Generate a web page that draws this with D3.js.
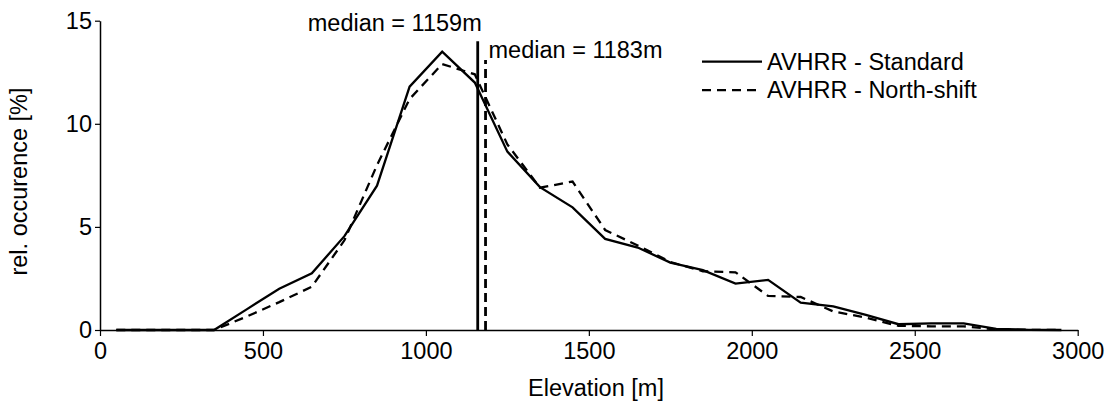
<!DOCTYPE html>
<html>
<head>
<meta charset="utf-8">
<script src="https://cdn.jsdelivr.net/npm/d3@7"></script>
<style>
  html, body { margin: 0; padding: 0; background: #fff; }
  svg { display: block; font-family: "Liberation Sans", Arial, sans-serif; }
</style>
</head>
<body>
<svg id="chart" width="1106" height="401"></svg>
<script>
// ---- data ----
const elevation = [50,150,250,350,450,550,650,750,850,950,1050,1150,1250,1350,1450,1550,1650,1750,1850,1950,2050,2150,2250,2350,2450,2550,2650,2750,2850,2950];
const standard  = [0,0,0,0,1.0,2.0,2.75,4.55,7.0,11.8,13.5,12.0,8.65,6.93,5.95,4.42,4.0,3.27,2.9,2.25,2.43,1.33,1.15,0.73,0.28,0.32,0.32,0.05,0.01,0];
const northShift= [0,0,0,0,0.65,1.35,2.1,4.35,8.0,11.2,12.9,12.4,9.0,6.9,7.2,4.85,4.1,3.3,2.85,2.8,1.65,1.6,0.9,0.6,0.2,0.18,0.18,0.03,0.01,0];
const seriesNames = ["AVHRR - Standard", "AVHRR - North-shift"];
const medianValues = [1159, 1183];
const medianTops = [14.0, 13.1];
const medianLabels = ["median = 1159m", "median = 1183m"];
const xTicks = [0,500,1000,1500,2000,2500,3000];
const yTicks = [0,5,10,15];

// ---- layout ----
const svg = d3.select("#chart");
const FS = 23.5;
const x = d3.scaleLinear().domain([0,3000]).range([100,1077.7]);
const y = d3.scaleLinear().domain([0,15]).range([330,20.7]);
const dashes = ["none", "9,6"];

// axes
const gx = svg.append("g").attr("transform", `translate(0,${y(0)})`);
gx.call(d3.axisBottom(x).tickValues(d3.range(0,3001,100)).tickSize(3).tickSizeOuter(0).tickFormat(""));
gx.call(d3.axisBottom(x).tickValues(xTicks).tickSize(6).tickSizeOuter(0).tickPadding(6).tickFormat(d3.format("d")));
const gy = svg.append("g").attr("transform", `translate(${x(0)},0)`);
gy.call(d3.axisLeft(y).tickValues(d3.range(0,16,1)).tickSize(3).tickSizeOuter(0).tickFormat(""));
gy.call(d3.axisLeft(y).tickValues(yTicks).tickSize(5).tickSizeOuter(0).tickPadding(3).tickFormat(d3.format("d")));
svg.selectAll(".domain").attr("stroke","#000").attr("stroke-width",1.5);
svg.selectAll(".tick line").attr("stroke","#000").attr("stroke-width",1.2);
svg.selectAll(".tick text").attr("font-size",FS).attr("font-family","Liberation Sans, Arial, sans-serif").attr("fill","#000");

// axis titles
svg.append("text").attr("x",596).attr("y",396).attr("text-anchor","middle")
  .attr("font-size",FS).text("Elevation [m]");
svg.append("text").attr("transform","translate(27,181.5) rotate(-90)").attr("text-anchor","middle")
  .attr("font-size",FS).text("rel. occurence [%]");

// series lines
const line = d3.line().x((d,i)=>x(elevation[i])).y(d=>y(d));
[standard, northShift].forEach((s,k)=>{
  svg.append("path").datum(s).attr("d",line).attr("fill","none")
    .attr("stroke","#000").attr("stroke-width",2.3)
    .attr("stroke-dasharray",dashes[k]).attr("stroke-linejoin","miter");
});

// median lines
medianValues.forEach((m,k)=>{
  svg.append("line").attr("x1",x(m)).attr("x2",x(m)).attr("y1",y(0)).attr("y2",y(medianTops[k]))
    .attr("stroke","#000").attr("stroke-width",2.8).attr("stroke-dasharray",k?"9,5":"none");
});
svg.append("text").attr("x",x(medianValues[0])+4).attr("y",y(medianTops[0])-10)
  .attr("text-anchor","end").attr("font-size",FS).text(medianLabels[0]);
svg.append("text").attr("x",x(medianValues[1])+3).attr("y",y(medianTops[1])-2)
  .attr("text-anchor","start").attr("font-size",FS).text(medianLabels[1]);

// legend
seriesNames.forEach((n,k)=>{
  const ly = 61.7 + k*28.5;
  svg.append("line").attr("x1",702).attr("x2",762).attr("y1",ly).attr("y2",ly)
    .attr("stroke","#000").attr("stroke-width",2.3).attr("stroke-dasharray",dashes[k]);
  svg.append("text").attr("x",767).attr("y",ly+8).attr("font-size",FS).text(n);
});
</script>
</body>
</html>
